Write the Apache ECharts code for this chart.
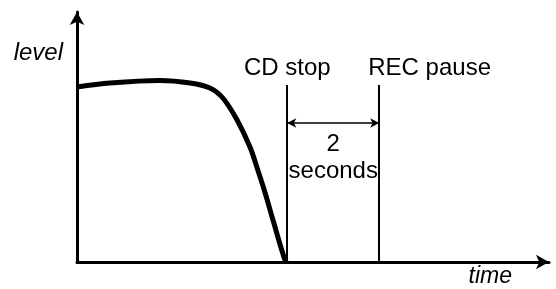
<!DOCTYPE html>
<html><head><meta charset="utf-8">
<script src="https://cdn.jsdelivr.net/npm/echarts@6/dist/echarts.min.js"></script>
<style>html,body{margin:0;padding:0;background:#fff}#c{width:556px;height:289px}</style>
</head><body><div id="c"></div>
<script>
// time in seconds, level in arbitrary units (0-100)
var curveTime  = [0, 0.72, 1.80, 2.46, 2.89, 3.17, 3.48, 3.76, 3.93, 4.09, 4.26, 4.52, 4.57];
var curveLevel = [70.0, 71.6, 72.6, 71.6, 69.6, 65.6, 56.8, 46.0, 36.8, 27.6, 16.8, 0.8, 0];
var eventNames = ['CD stop', 'REC pause'];
var eventTimes = [4.57, 6.57];
var eventTop = 70.8;
var gapLevel = 55.6;
var gapLabels = ['2', 'seconds'];
var gapLabelLevels = [47.2, 36.4];
var timeMax = 10.26, levelMax = 100;

var FONT = 'Liberation Sans, Arial, sans-serif';
var curve = curveTime.map(function (t, i) { return [t, curveLevel[i]]; });
var labelAligns = [{align: 'center', offset: [0, 0]}, {align: 'left', offset: [-11, 0]}];
var vlines = eventTimes.map(function (t, i) {
  return [{coord: [t, 0], label: {formatter: eventNames[i], align: labelAligns[i].align, offset: labelAligns[i].offset}}, {coord: [t, eventTop]}];
});
var midT = (eventTimes[0] + eventTimes[1]) / 2;

var chart = echarts.init(document.getElementById('c'), null, {renderer: 'canvas'});
chart.setOption({
  animation: false,
  grid: {left: 77, right: 7, top: 12, bottom: 27},
  xAxis: {
    type: 'value', min: 0, max: timeMax,
    name: 'time', nameLocation: 'end', nameGap: -37,
    nameTextStyle: {fontFamily: FONT, fontSize: 23, fontStyle: 'italic', color: '#000', align: 'right', verticalAlign: 'top', padding: [3, 0, 0, 0]},
    axisLine: {lineStyle: {color: '#000', width: 3}, symbol: ['none', 'arrow'], symbolSize: [11, 13]},
    axisTick: {show: false}, axisLabel: {show: false}, splitLine: {show: false}
  },
  yAxis: {
    type: 'value', min: 0, max: levelMax,
    name: 'level', nameLocation: 'end', nameGap: -29,
    nameTextStyle: {fontFamily: FONT, fontSize: 24, fontStyle: 'italic', color: '#000', align: 'right', verticalAlign: 'top', padding: [0, 14, 0, 0]},
    axisLine: {lineStyle: {color: '#000', width: 3}, symbol: ['none', 'arrow'], symbolSize: [11, 13]},
    axisTick: {show: false}, axisLabel: {show: false}, splitLine: {show: false}
  },
  series: [
    {
      type: 'line', data: curve, smooth: 0.35, symbol: 'none',
      lineStyle: {color: '#000', width: 5}
    },
    {
      type: 'line', data: [], symbol: 'none',
      markLine: {
        silent: true, symbol: ['none', 'none'],
        lineStyle: {color: '#000', width: 2, type: 'solid'},
        label: {show: true, position: 'end', distance: 5, color: '#000', fontFamily: FONT, fontSize: 24},
        data: vlines
      }
    },
    {
      type: 'line', data: [], symbol: 'none',
      markLine: {
        silent: true, symbol: ['arrow', 'arrow'], symbolSize: [7, 9],
        lineStyle: {color: '#000', width: 1.5, type: 'solid'},
        label: {show: false},
        data: [[{coord: [eventTimes[0], gapLevel]}, {coord: [eventTimes[1], gapLevel]}]]
      }
    },
    {
      type: 'scatter', symbolSize: 0, itemStyle: {opacity: 1},
      data: gapLabels.map(function (s, i) { return {value: [midT, gapLabelLevels[i]], name: s}; }),
      label: {show: true, position: 'inside', formatter: '{b}', color: '#000', fontFamily: FONT, fontSize: 24}
    }
  ]
});
</script></body></html>
